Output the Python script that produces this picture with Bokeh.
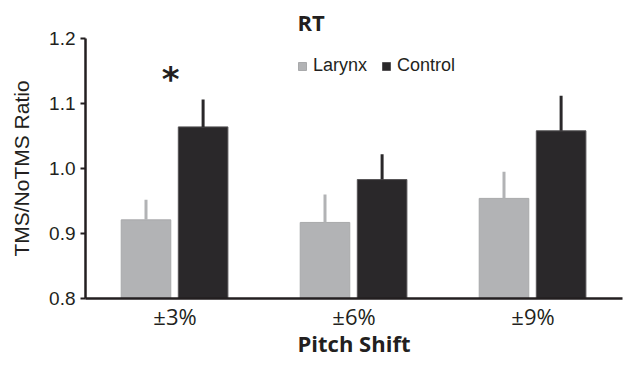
from bokeh.plotting import figure
from bokeh.models import (FactorRange, Range1d, FixedTicker, Legend, LegendItem,
                          ColumnDataSource, PrintfTickFormatter)
from bokeh.transform import dodge
from bokeh.core.properties import value
from bokeh.embed import file_html
from bokeh.resources import INLINE

# ---- data ----
categories = ["±3%", "±6%", "±9%"]
larynx = [0.921, 0.917, 0.954]
larynx_err = [0.031, 0.043, 0.041]
control = [1.064, 0.983, 1.058]
control_err = [0.042, 0.039, 0.054]
y_ticks = [0.8, 0.9, 1.0, 1.1, 1.2]
series_names = ["Larynx", "Control"]
significant = ["±3%"]
title_text = "RT"

LARYNX_COLOR = "#b2b3b5"
CONTROL_COLOR = "#2a282a"
INK = "#231f20"

src = ColumnDataSource(dict(
    cat=categories,
    larynx=larynx,
    larynx_top=[v + e for v, e in zip(larynx, larynx_err)],
    control=control,
    control_top=[v + e for v, e in zip(control, control_err)],
))

sig_idx = [categories.index(c) for c in significant]
star_src = ColumnDataSource(dict(
    cat=significant,
    y=[control[i] + control_err[i] + 0.031 for i in sig_idx],
    t=["*"] * len(significant),
))

p = figure(x_range=FactorRange(*categories, range_padding=0),
           y_range=Range1d(0.8, 1.2),
           width=624, height=365, output_backend="svg", toolbar_location=None,
           min_border_left=85, min_border_right=2, min_border_top=38, min_border_bottom=67)

p.outline_line_color = None
p.xgrid.grid_line_color = None
p.ygrid.grid_line_color = None

off_l = -0.162
off_c = 0.157
bw = 0.277
r1 = p.vbar(x=dodge("cat", off_l, range=p.x_range), top="larynx", bottom=0.8, width=bw,
            source=src, fill_color=LARYNX_COLOR, line_color="#a8a9ab", line_width=1)
r2 = p.vbar(x=dodge("cat", off_c, range=p.x_range), top="control", bottom=0.8, width=bw,
            source=src, fill_color=CONTROL_COLOR, line_color="#555355", line_width=1)

p.segment(x0=dodge("cat", off_l, range=p.x_range), y0="larynx",
          x1=dodge("cat", off_l, range=p.x_range), y1="larynx_top",
          source=src, line_color=LARYNX_COLOR, line_width=3)
p.segment(x0=dodge("cat", off_c, range=p.x_range), y0="control",
          x1=dodge("cat", off_c, range=p.x_range), y1="control_top",
          source=src, line_color=CONTROL_COLOR, line_width=3)

p.text(x=dodge("cat", -0.025, range=p.x_range), y="y", text="t", source=star_src,
       text_font=value("DejaVu Sans"), text_font_style="bold", text_font_size="34px",
       text_align="center", text_baseline="middle", text_color=INK)

# axes
for ax in (p.xaxis[0], p.yaxis[0]):
    ax.axis_line_color = INK
    ax.axis_line_width = 2.5
    ax.minor_tick_line_color = None

p.yaxis.ticker = FixedTicker(ticks=y_ticks)
p.yaxis.formatter = PrintfTickFormatter(format="%.1f")
p.yaxis.major_tick_in = 0
p.yaxis.major_tick_out = 5
p.yaxis.major_tick_line_color = INK
p.yaxis.major_tick_line_width = 2
p.yaxis.major_label_text_font = "Liberation Sans"
p.yaxis.major_label_text_font_size = "19px"
p.yaxis.major_label_text_color = INK
p.yaxis.major_label_standoff = 5
p.yaxis.axis_label = "TMS/NoTMS Ratio"
p.yaxis.axis_label_text_font = "Liberation Sans"
p.yaxis.axis_label_text_font_style = "normal"
p.yaxis.axis_label_text_font_size = "21px"
p.yaxis.axis_label_text_color = INK
p.yaxis.axis_label_standoff = 13

p.xaxis.major_tick_line_color = None
p.xaxis.major_tick_in = 0
p.xaxis.major_tick_out = 0
p.xaxis.major_label_text_font = "Open Sans"
p.xaxis.major_label_text_font_size = "22px"
p.xaxis.major_label_text_color = INK
p.xaxis.major_label_standoff = 2
p.xaxis.axis_label = "Pitch Shift"
p.xaxis.axis_label_text_font = "Open Sans"
p.xaxis.axis_label_text_font_style = "bold"
p.xaxis.axis_label_text_font_size = "22px"
p.xaxis.axis_label_text_color = INK
p.xaxis.axis_label_standoff = -6

# title
p.title.text = title_text
p.title.text_font = "Open Sans"
p.title.text_font_style = "bold"
p.title.text_font_size = "22px"
p.title.text_color = INK
p.title.align = "left"
p.title.offset = 212
p.title.standoff = 0
p.title.vertical_align = "top"

legend = Legend(items=[LegendItem(label=series_names[0], renderers=[r1]),
                       LegendItem(label=series_names[1], renderers=[r2])],
                location=(212, 222), orientation="horizontal",
                glyph_width=10, glyph_height=10,
                label_text_font="Liberation Sans", label_text_font_size="18px",
                label_text_color=INK, spacing=14, label_standoff=6,
                padding=0, margin=0, border_line_color=None, background_fill_alpha=0)
p.add_layout(legend)

open("out.html", "w").write(file_html(p, INLINE))
